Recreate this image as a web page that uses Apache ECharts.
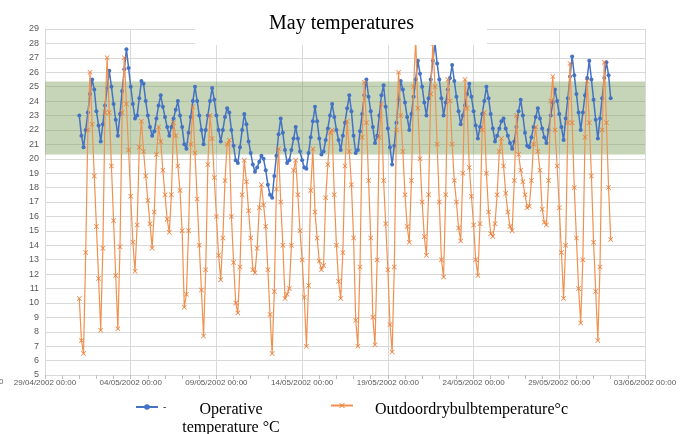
<!DOCTYPE html>
<html>
<head>
<meta charset="utf-8">
<script src="https://cdn.jsdelivr.net/npm/echarts@6/dist/echarts.min.js"></script>
<style>
  html, body { margin: 0; padding: 0; background: #fff; }
  #chart { width: 688px; height: 434px; }
</style>
</head>
<body>
<div id="chart"></div>
<script>
// x axis runs in days counted from 29/04/2002 00:00
const axisStart = Date.UTC(2002, 3, 29);
const firstDay = 2;      // first reading: 01/05/2002 00:00
const stepHours = 3;     // one reading every 3 hours
const xTicks = [0, 5, 10, 15, 20, 25, 30, 35];
const comfortBand = [20.3, 25.35];

// operative temperature, 8 readings per day (00,03,...,21h)
const operative = [
  23.0, 21.6, 20.8, 22.0, 23.2, 24.5, 25.5, 24.8,   // 01/05
  23.3, 22.3, 21.2, 22.4, 23.7, 24.9, 26.1, 25.0,   // 02/05
  23.8, 22.7, 21.6, 23.1, 24.7, 26.2, 27.6, 26.3,   // 03/05
  25.0, 23.8, 22.8, 23.0, 24.2, 25.4, 25.2, 24.0,   // 04/05
  23.0, 22.2, 21.6, 21.9, 22.8, 23.7, 24.4, 23.6,   // 05/05
  22.9, 22.2, 21.6, 22.2, 22.8, 23.4, 24.0, 23.0,   // 06/05
  22.2, 21.0, 20.7, 21.8, 22.9, 24.0, 25.0, 24.0,   // 07/05
  23.0, 22.0, 21.0, 22.0, 23.0, 24.0, 24.9, 24.1,   // 08/05
  23.0, 22.0, 21.2, 22.0, 22.9, 23.5, 23.2, 22.0,   // 09/05
  20.9, 19.9, 19.7, 20.8, 22.0, 23.1, 22.4, 21.2,   // 10/05
  20.4, 19.6, 19.1, 19.4, 19.8, 20.2, 20.0, 19.2,   // 11/05
  18.2, 17.5, 17.3, 18.8, 20.2, 21.7, 22.8, 21.8,   // 12/05
  20.6, 19.7, 19.9, 20.6, 21.4, 22.2, 21.4, 20.5,   // 13/05
  19.9, 19.4, 19.3, 20.4, 21.5, 22.6, 23.6, 22.6,   // 14/05
  21.4, 20.3, 20.5, 21.3, 22.1, 23.0, 23.8, 22.9,   // 15/05
  22.0, 21.3, 20.6, 21.6, 22.5, 23.5, 24.4, 23.3,   // 16/05
  21.6, 20.4, 20.6, 21.9, 23.1, 24.4, 25.5, 24.3,   // 17/05
  23.3, 22.2, 21.1, 21.6, 23.0, 24.4, 25.1, 23.6,   // 18/05
  22.1, 20.8, 19.6, 20.9, 22.5, 24.1, 25.4, 24.8,   // 19/05
  23.9, 22.9, 22.0, 23.1, 24.3, 25.5, 26.8, 25.9,   // 20/05
  25.0, 23.9, 23.0, 24.2, 25.5, 26.8, 28.0, 26.6,   // 21/05
  25.5, 24.2, 23.0, 23.9, 24.8, 25.6, 26.5, 25.4,   // 22/05
  24.3, 23.3, 22.4, 23.0, 23.7, 24.5, 25.2, 24.3,   // 23/05
  23.3, 22.3, 21.4, 22.2, 23.1, 24.0, 25.0, 24.2,   // 24/05
  23.1, 22.1, 21.2, 21.6, 22.1, 22.6, 22.8, 22.1,   // 25/05
  21.6, 21.1, 20.7, 21.2, 22.2, 23.3, 24.1, 23.0,   // 26/05
  21.8, 20.9, 20.8, 21.5, 22.2, 22.9, 23.5, 22.8,   // 27/05
  22.1, 21.5, 21.1, 22.0, 23.0, 23.9, 24.8, 24.0,   // 28/05
  23.1, 22.2, 21.3, 22.8, 24.2, 25.7, 27.1, 25.8,   // 29/05
  24.5, 23.2, 22.0, 23.2, 24.4, 25.6, 26.8, 25.5,   // 30/05
  24.1, 22.7, 21.4, 22.8, 24.2, 25.6, 26.7, 25.8,   // 31/05
  24.2                                              // 01/06
];

// outdoor dry bulb temperature, same time steps
const outdoor = [
  10.3, 7.4, 6.5, 13.5, 22.0, 26.0, 22.4, 18.8,     // 01/05
  15.3, 11.7, 8.1, 13.8, 23.2, 27.0, 23.2, 19.5,    // 02/05
  15.7, 11.9, 8.2, 13.9, 23.2, 27.0, 23.8, 20.6,    // 03/05
  17.4, 14.2, 12.2, 15.4, 20.8, 22.6, 20.5, 18.8,   // 04/05
  17.1, 15.5, 13.8, 16.3, 20.3, 22.2, 21.2, 19.2,   // 05/05
  17.5, 15.8, 14.9, 17.5, 22.5, 21.6, 19.5, 17.8,   // 06/05
  15.0, 9.7, 10.6, 15.0, 21.0, 23.6, 20.4, 17.2,    // 07/05
  14.0, 10.9, 7.7, 12.3, 19.6, 23.0, 21.4, 18.7,    // 08/05
  16.0, 13.3, 11.6, 14.5, 18.5, 21.0, 21.3, 16.0,   // 09/05
  12.8, 10.0, 9.3, 12.5, 17.5, 19.9, 18.4, 16.4,    // 10/05
  14.5, 12.3, 12.1, 13.8, 16.6, 18.2, 16.8, 15.3,   // 11/05
  12.3, 9.2, 6.5, 10.8, 17.9, 20.7, 17.0, 14.0,     // 12/05
  10.3, 10.6, 11.0, 14.0, 19.2, 19.9, 17.5, 15.0,   // 13/05
  13.0, 10.4, 7.0, 11.2, 17.8, 20.7, 16.3, 14.5,    // 14/05
  12.9, 12.3, 12.6, 17.3, 19.6, 21.8, 22.0, 17.5,   // 15/05
  14.0, 11.5, 10.3, 13.5, 19.5, 22.6, 20.5, 18.2,   // 16/05
  14.5, 8.8, 7.0, 12.5, 21.5, 25.3, 22.5, 18.5,     // 17/05
  14.5, 9.0, 7.1, 13.0, 21.5, 23.8, 18.5, 15.5,     // 18/05
  12.3, 8.5, 6.6, 12.5, 22.0, 26.0, 23.0, 20.5,     // 19/05
  17.5, 15.3, 14.2, 18.5, 25.0, 28.3, 23.5, 20.0,   // 20/05
  17.0, 14.6, 13.3, 17.5, 24.5, 28.0, 25.0, 21.0,   // 21/05
  17.0, 13.0, 11.8, 17.5, 25.5, 24.0, 21.0, 18.5,   // 22/05
  17.0, 15.2, 14.3, 19.0, 25.5, 23.5, 19.4, 17.4,   // 23/05
  15.4, 13.0, 11.9, 15.5, 22.0, 23.2, 19.0, 16.3,   // 24/05
  14.8, 14.6, 15.5, 17.5, 20.5, 21.4, 19.5, 17.6,   // 25/05
  16.3, 15.3, 15.0, 18.5, 23.0, 20.3, 19.2, 18.4,   // 26/05
  17.5, 16.6, 16.7, 18.5, 21.0, 22.2, 20.5, 19.2,   // 27/05
  16.5, 15.6, 15.4, 18.5, 24.0, 25.7, 22.0, 19.5,   // 28/05
  16.6, 13.5, 10.3, 14.0, 22.5, 26.6, 22.5, 18.0,   // 29/05
  14.5, 11.0, 8.6, 13.0, 21.5, 25.4, 22.5, 18.8,    // 30/05
  14.2, 10.8, 7.4, 12.5, 22.0, 26.7, 22.5, 18.0,    // 31/05
  14.4                                              // 01/06
];

function toPairs(values) {
  return values.map((v, i) => [firstDay + i * stepHours / 24, v]);
}

function pad(n) { return (n < 10 ? '0' : '') + n; }

function dayLabel(v) {
  const d = new Date(axisStart + v * 86400000);
  return pad(d.getUTCDate()) + '/' + pad(d.getUTCMonth() + 1) + '/' + d.getUTCFullYear() + ' 00:00';
}

const chart = echarts.init(document.getElementById('chart'), null, { renderer: 'canvas' });

const xMarker = 'path://M0,1L1,0L5,4L9,0L10,1L6,5L10,9L9,10L5,6L1,10L0,9L4,5Z';
const labelFont = 'Liberation Sans';
const serif = 'Liberation Serif';

chart.setOption({
  animation: false,
  backgroundColor: '#fff',
  title: {
    text: 'May temperatures',
    left: 264,
    top: 9,
    z: 20,
    textStyle: { fontFamily: serif, fontSize: 20, fontWeight: 'normal', color: '#000' }
  },
  legend: [
    {
      data: ['Operative temperature °C'],
      left: 130, top: 397,
      itemWidth: 22, itemHeight: 7,
      formatter: () => '-',
      textStyle: { fontSize: 10, color: '#333', padding: [0, 0, 6, 0] }
    },
    {
      data: ['Outdoordrybulbtemperature°c'],
      left: 325, top: 397,
      itemWidth: 22, itemHeight: 7,
      formatter: () => '',
      textStyle: { fontSize: 10 }
    }
  ],
  grid: { left: 45, right: 43, top: 29, bottom: 59 },
  xAxis: {
    type: 'value',
    min: xTicks[0],
    max: xTicks[xTicks.length - 1],
    interval: 5,
    axisLine: { show: true, lineStyle: { color: '#d9d9d9' } },
    axisTick: { show: true, length: 4, lineStyle: { color: '#bfbfbf' } },
    minorTick: { show: true, splitNumber: 5, length: 4, lineStyle: { color: '#bfbfbf' } },
    splitLine: { show: true, lineStyle: { color: '#d9d9d9' } },
    axisLabel: {
      fontFamily: labelFont, fontSize: 8, color: '#595959', margin: 4,
      showMinLabel: true, showMaxLabel: true,
      formatter: dayLabel
    }
  },
  yAxis: {
    type: 'value',
    min: 5,
    max: 29,
    interval: 1,
    axisLine: { show: true, lineStyle: { color: '#d9d9d9' } },
    axisTick: { show: false },
    splitLine: { show: true, lineStyle: { color: '#d9d9d9' } },
    axisLabel: { fontFamily: labelFont, fontSize: 9, color: '#595959', margin: 6 }
  },
  graphic: [
    { type: 'rect', z: 15, shape: { x: 195, y: 0, width: 292, height: 45 }, style: { fill: '#fff' } },
    { type: 'text', z: 15, x: -1, y: 378, style: { text: '0', font: '8px ' + labelFont, fill: '#595959' } },
    {
      type: 'text', z: 15, x: 231, y: 401,
      style: { text: 'Operative\ntemperature °C', font: '16px ' + serif, fill: '#000', align: 'center', lineHeight: 18 }
    },
    {
      type: 'text', z: 15, x: 375, y: 401,
      style: { text: 'Outdoordrybulbtemperature°c', font: '16px ' + serif, fill: '#000', lineHeight: 18 }
    }
  ],
  series: [
    {
      name: 'Operative temperature °C',
      type: 'line',
      data: toPairs(operative),
      symbol: 'circle',
      symbolSize: 4,
      showAllSymbol: true,
      lineStyle: { color: '#4472c4', width: 1.5 },
      itemStyle: { color: '#4472c4' },
      z: 3,
      markArea: {
        silent: true,
        itemStyle: { color: 'rgba(118,154,84,0.42)' },
        data: [[{ yAxis: comfortBand[0] }, { yAxis: comfortBand[1] }]]
      }
    },
    {
      name: 'Outdoordrybulbtemperature°c',
      type: 'line',
      data: toPairs(outdoor),
      symbol: xMarker,
      symbolSize: 5,
      showAllSymbol: true,
      lineStyle: { color: '#f0914f', width: 1.2 },
      itemStyle: { color: '#e97b36' },
      z: 4
    }
  ]
});
</script>
</body>
</html>
